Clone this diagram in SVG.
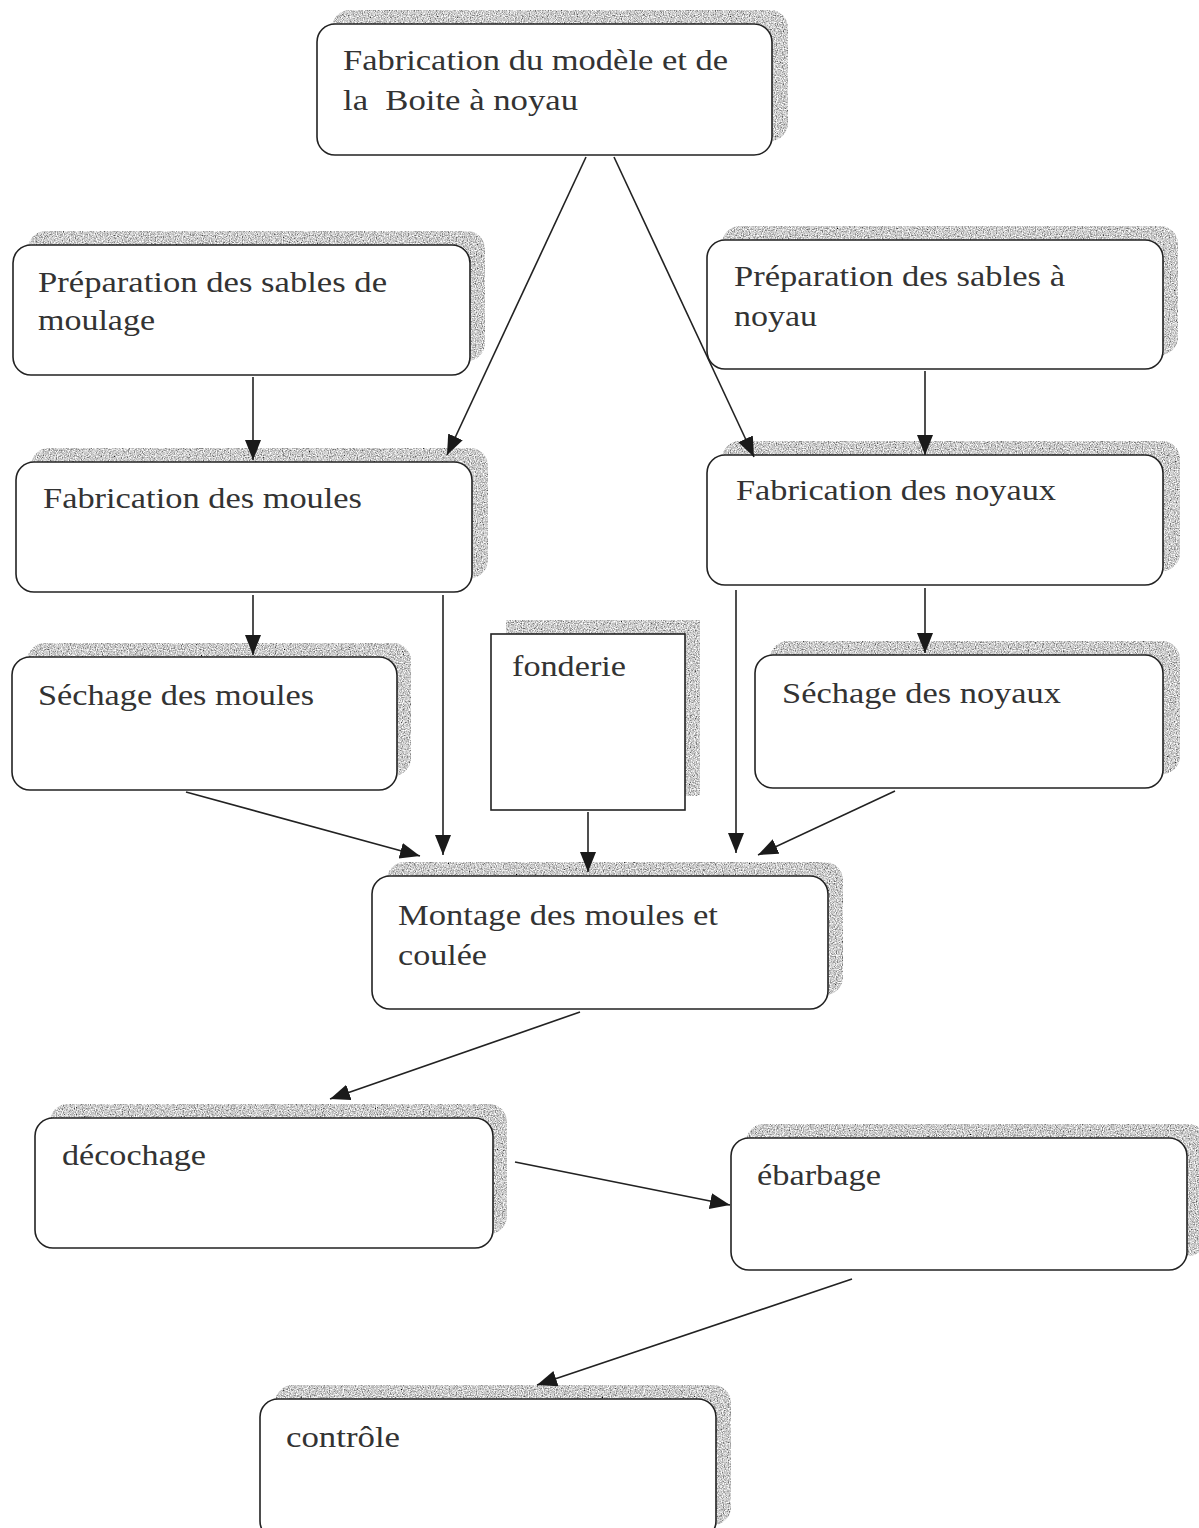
<svg xmlns="http://www.w3.org/2000/svg" width="1199" height="1528" viewBox="0 0 1199 1528">
  <style>
    .box { fill: #ffffff; stroke: #222222; stroke-width: 1.6; }
    .shadow { fill: #9a9a9a; filter: url(#grain); }
    .label { font-family: "Times New Roman", "Liberation Serif", Times, serif; font-size: 30px; fill: #333333; }
    .link { stroke: #222222; stroke-width: 1.6; fill: none; marker-end: url(#arrow); }
  </style>
  <defs>
    <!-- speckled grey used for the offset box shadows -->
    <filter id="grain" x="0" y="0" width="100%" height="100%">
      <feTurbulence type="fractalNoise" baseFrequency="0.85" numOctaves="2" seed="3" result="noise"/>
      <feColorMatrix in="noise" type="matrix" values="1.6 0 0 0 -0.2  1.6 0 0 0 -0.2  1.6 0 0 0 -0.2  0 0 0 0 1" result="tint"/>
      <feComposite in="tint" in2="SourceGraphic" operator="in"/>
    </filter>
    <marker id="arrow" markerUnits="userSpaceOnUse" markerWidth="22" markerHeight="18" refX="20" refY="8" orient="auto">
      <path d="M0,0 L20,8 L0,16 z" fill="#1a1a1a"/>
    </marker>
  </defs>

  <rect width="1199" height="1528" fill="#ffffff"/>

  <g id="modele">
    <rect class="shadow" x="332" y="10" width="456" height="131" rx="18"/>
    <rect class="box" x="317" y="24" width="455" height="131" rx="18"/>
    <text class="label" x="343" y="70" textLength="385" lengthAdjust="spacingAndGlyphs">Fabrication du modèle et de</text>
    <text class="label" x="343" y="110" textLength="235" lengthAdjust="spacingAndGlyphs" xml:space="preserve">la  Boite à noyau</text>
  </g>

  <g id="sables-moulage">
    <rect class="shadow" x="28" y="231" width="457" height="130" rx="18"/>
    <rect class="box" x="13" y="245" width="457" height="130" rx="18"/>
    <text class="label" x="38" y="292" textLength="349" lengthAdjust="spacingAndGlyphs">Préparation des sables de</text>
    <text class="label" x="38" y="330" textLength="117" lengthAdjust="spacingAndGlyphs">moulage</text>
  </g>

  <g id="sables-noyau">
    <rect class="shadow" x="722" y="226" width="456" height="129" rx="18"/>
    <rect class="box" x="707" y="240" width="456" height="129" rx="18"/>
    <text class="label" x="734" y="286" textLength="331" lengthAdjust="spacingAndGlyphs">Préparation des sables à</text>
    <text class="label" x="734" y="326" textLength="83" lengthAdjust="spacingAndGlyphs">noyau</text>
  </g>

  <g id="fab-moules">
    <rect class="shadow" x="31" y="448" width="457" height="130" rx="18"/>
    <rect class="box" x="16" y="462" width="456" height="130" rx="18"/>
    <text class="label" x="43" y="508" textLength="319" lengthAdjust="spacingAndGlyphs">Fabrication des moules</text>
  </g>

  <g id="fab-noyaux">
    <rect class="shadow" x="722" y="441" width="458" height="130" rx="18"/>
    <rect class="box" x="707" y="455" width="456" height="130" rx="18"/>
    <text class="label" x="736" y="500" textLength="320" lengthAdjust="spacingAndGlyphs">Fabrication des noyaux</text>
  </g>

  <g id="sechage-moules">
    <rect class="shadow" x="27" y="643" width="384" height="133" rx="18"/>
    <rect class="box" x="12" y="657" width="385" height="133" rx="18"/>
    <text class="label" x="38" y="705" textLength="276" lengthAdjust="spacingAndGlyphs">Séchage des moules</text>
  </g>

  <g id="fonderie">
    <rect class="shadow" x="506" y="620" width="194" height="176"/>
    <rect class="box" x="491" y="634" width="194" height="176"/>
    <text class="label" x="512" y="676" textLength="114" lengthAdjust="spacingAndGlyphs">fonderie</text>
  </g>

  <g id="sechage-noyaux">
    <rect class="shadow" x="770" y="641" width="410" height="133" rx="18"/>
    <rect class="box" x="755" y="655" width="408" height="133" rx="18"/>
    <text class="label" x="782" y="703" textLength="279" lengthAdjust="spacingAndGlyphs">Séchage des noyaux</text>
  </g>

  <g id="montage">
    <rect class="shadow" x="387" y="862" width="456" height="133" rx="18"/>
    <rect class="box" x="372" y="876" width="456" height="133" rx="18"/>
    <text class="label" x="398" y="925" textLength="320" lengthAdjust="spacingAndGlyphs">Montage des moules et</text>
    <text class="label" x="398" y="965" textLength="89" lengthAdjust="spacingAndGlyphs">coulée</text>
  </g>

  <g id="decochage">
    <rect class="shadow" x="50" y="1104" width="457" height="130" rx="18"/>
    <rect class="box" x="35" y="1118" width="458" height="130" rx="18"/>
    <text class="label" x="62" y="1165" textLength="144" lengthAdjust="spacingAndGlyphs">décochage</text>
  </g>

  <g id="ebarbage">
    <rect class="shadow" x="746" y="1124" width="460" height="132" rx="18"/>
    <rect class="box" x="731" y="1138" width="456" height="132" rx="18"/>
    <text class="label" x="757" y="1185" textLength="124" lengthAdjust="spacingAndGlyphs">ébarbage</text>
  </g>

  <g id="controle">
    <rect class="shadow" x="275" y="1385" width="456" height="140" rx="18"/>
    <rect class="box" x="260" y="1399" width="456" height="140" rx="18"/>
    <text class="label" x="286" y="1447" textLength="114" lengthAdjust="spacingAndGlyphs">contrôle</text>
  </g>

  <!-- connectors sit above the shadows so the arrow tips stay visible -->
  <g id="connectors">
    <line class="link" x1="586" y1="157" x2="447" y2="455"/>
    <line class="link" x1="614" y1="157" x2="754" y2="457"/>
    <line class="link" x1="253" y1="377" x2="253" y2="460"/>
    <line class="link" x1="925" y1="371" x2="925" y2="455"/>
    <line class="link" x1="253" y1="595" x2="253" y2="655"/>
    <line class="link" x1="925" y1="588" x2="925" y2="653"/>
    <line class="link" x1="186" y1="792" x2="420" y2="856"/>
    <line class="link" x1="443" y1="595" x2="443" y2="855"/>
    <line class="link" x1="588" y1="812" x2="588" y2="872"/>
    <line class="link" x1="736" y1="590" x2="736" y2="853"/>
    <line class="link" x1="895" y1="791" x2="758" y2="855"/>
    <line class="link" x1="580" y1="1012" x2="330" y2="1099"/>
    <line class="link" x1="515" y1="1162" x2="730" y2="1205"/>
    <line class="link" x1="852" y1="1279" x2="537" y2="1385"/>
  </g>
</svg>
